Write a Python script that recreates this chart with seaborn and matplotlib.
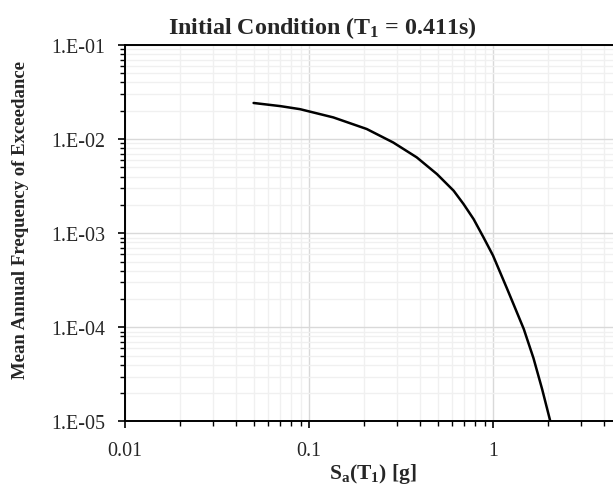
import numpy as np
import pandas as pd
import seaborn as sns
import matplotlib
matplotlib.use("Agg")
import matplotlib.pyplot as plt
from matplotlib.ticker import FuncFormatter, LogLocator, NullFormatter

sns.set_style("white")
plt.rcParams.update({
    "font.family": ["Liberation Serif", "DejaVu Serif"],
    "mathtext.fontset": "custom",
    "mathtext.rm": "Liberation Serif",
    "mathtext.bf": "Liberation Serif:bold",
    "mathtext.it": "Liberation Serif:italic",
})

# hazard curve
sa_g = [0.05, 0.07, 0.0894, 0.1, 0.1356, 0.206, 0.287, 0.385, 0.496,
        0.611, 0.692, 0.785, 0.889, 1.0, 1.19, 1.29, 1.47, 1.66, 1.85, 2.05]
mafe = [2.42e-2, 2.24e-2, 2.08e-2, 1.97e-2, 1.70e-2, 1.28e-2, 9.2e-3,
        6.4e-3, 4.25e-3, 2.83e-3, 2.04e-3, 1.41e-3, 9.0e-4, 5.8e-4, 2.6e-4,
        1.78e-4, 9.6e-5, 4.7e-5, 2.2e-5, 1.0e-5]

df = pd.DataFrame({"Sa": sa_g, "MAFE": mafe})

fig = plt.figure(figsize=(6.13, 4.85), dpi=100)
# axis runs past the right edge, like the cropped original
ax = fig.add_axes([0.2039, 0.1289, 0.9005, 0.7763])

sns.lineplot(data=df, x="Sa", y="MAFE", ax=ax, color="black", linewidth=1.8)

ax.set_xscale("log")
ax.set_yscale("log")
ax.set_xlim(0.01, 10)
ax.set_ylim(1e-5, 1e-1)

ax.xaxis.set_major_locator(LogLocator(base=10))
ax.xaxis.set_minor_locator(LogLocator(base=10, subs=np.arange(2, 10)))
ax.yaxis.set_major_locator(LogLocator(base=10))
ax.yaxis.set_minor_locator(LogLocator(base=10, subs=np.arange(2, 10)))
ax.xaxis.set_major_formatter(FuncFormatter(lambda v, p: f"{v:g}" if v < 5 else ""))
ax.yaxis.set_major_formatter(FuncFormatter(lambda v, p: f"1.E{int(round(np.log10(v))):03d}"))
ax.xaxis.set_minor_formatter(NullFormatter())
ax.yaxis.set_minor_formatter(NullFormatter())

ax.grid(True, which="major", color="#d9d9d9", linewidth=1.0)
ax.grid(True, which="minor", color="#f0f0f0", linewidth=1.0)
ax.set_axisbelow(True)

for s in ["left", "bottom", "top"]:
    ax.spines[s].set_color("black")
    ax.spines[s].set_linewidth(1.4)
ax.spines["right"].set_visible(False)

ax.tick_params(which="major", direction="out", length=5, width=1.2, color="black",
               labelsize=14.4, pad=9, bottom=True, left=True, top=False, right=False)
ax.tick_params(which="minor", direction="out", length=3.5, width=1.0, color="black",
               bottom=True, left=True, top=False, right=False)

ax.set_xlabel("")
ax.set_ylabel("")
fig.text(0.6077, 0.0124, r"$\mathbf{S_a(T_1)\ [g]}$", ha="center", va="baseline", fontsize=15.5)
fig.text(0.033, 0.546, "Mean Annual Frequency of Exceedance", rotation=90,
         ha="center", va="center", fontsize=13.5, fontweight="bold")
fig.text(0.526, 0.929, r"Initial Condition (T$_{\mathregular{1}}$ = 0.411s)",
         ha="center", va="baseline", fontsize=17.3, fontweight="bold")

fig.savefig("out.png", dpi=100)
